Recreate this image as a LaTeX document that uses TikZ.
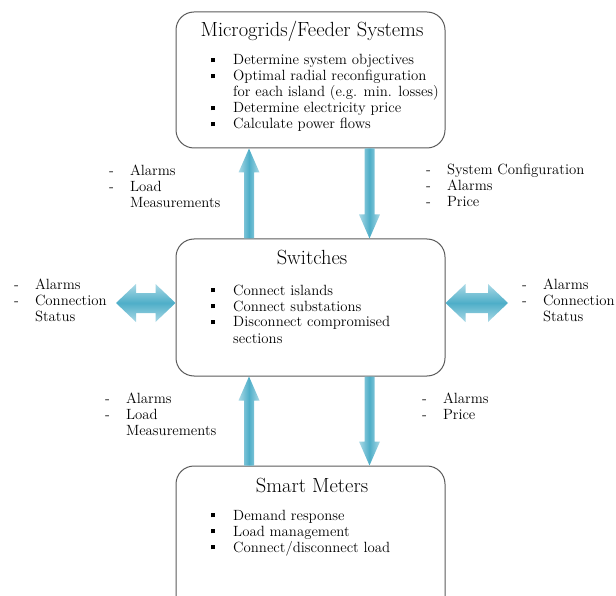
\documentclass[tikz,border=0pt]{standalone}
\usetikzlibrary{calc,positioning}
\definecolor{flowlight}{RGB}{170,217,230}
\definecolor{flowdark}{RGB}{78,174,200}
\definecolor{panelline}{RGB}{90,90,90}

\newcommand{\sq}{\rule[2.6pt]{4pt}{4pt}}
\newcommand{\tasks}[1]{\begin{tabular}[t]{@{}l@{\hspace{18pt}}l@{}}#1\end{tabular}}
\newcommand{\msgs}[1]{\begin{tabular}[t]{@{}l@{\hspace{16pt}}l@{}}#1\end{tabular}}
\newcommand{\vflow}[2]{%
    \shade[flowv] let \p1=(#1), \p2=(#2), \p3=($(#2)!24pt!(#1)$) in
        (\x1-5pt,\y1) -- (\x1-5pt,\y3) -- (\x1-10.5pt,\y3) -- (\p2)
        -- (\x1+10.5pt,\y3) -- (\x1+5pt,\y3) -- (\x1+5pt,\y1) -- cycle;}
\newcommand{\hflow}[2]{%
    \shade[flowh] let \p1=(#1), \p2=(#2), \p3=($(#1)!20pt!(#2)$), \p4=($(#2)!20pt!(#1)$) in
        (\p1) -- (\x3,\y1+19pt) -- (\x3,\y1+10pt) -- (\x4,\y1+10pt) -- (\x4,\y1+19pt) -- (\p2)
        -- (\x4,\y1-19pt) -- (\x4,\y1-10pt) -- (\x3,\y1-10pt) -- (\x3,\y1-19pt) -- cycle;}

\begin{document}
\begin{tikzpicture}[x=1pt,y=-1pt,
    panel/.style={draw=panelline, line width=1pt, rounded corners=18pt, minimum width=269pt},
    title/.style={font=\fontsize{20.5}{24}\selectfont, anchor=base, inner sep=0pt},
    body/.style={font=\fontsize{14.8}{16}\selectfont, anchor=base west, inner sep=0pt},
    flowv/.style={left color=flowlight, right color=flowlight, middle color=flowdark},
    flowh/.style={top color=flowlight, bottom color=flowlight, middle color=flowdark}]
            \useasboundingbox (0,0) rectangle (616,596);
            \node[panel, minimum height=136pt] (micro) at (310.5,80) {};
            \node[panel, minimum height=137pt] (switch) at (310.5,307.5) {};
            \node[panel, minimum height=180pt] (meters) at (310.5,556) {};
            \coordinate (upx) at (249,0);
            \coordinate (downx) at (369.5,0);
            \coordinate (lend) at (116,303);
            \coordinate (rend) at (508,303);
            \vflow{upx |- switch.north}{upx |- micro.south}
            \vflow{downx |- micro.south}{downx |- switch.north}
            \vflow{upx |- meters.north}{upx |- switch.south}
            \vflow{downx |- switch.south}{downx |- meters.north}
            \hflow{lend}{lend -| switch.west}
            \hflow{rend -| switch.east}{rend}
            \node[title] (microhead) at (312,37) {Microgrids/Feeder Systems};
            \node[title] (switchhead) at (312,265) {Switches};
            \node[title] (metershead) at (312,492) {Smart Meters};
            \node[body] (microtasks) at (211,65) {\tasks{\sq & Determine system objectives\\ \sq & Optimal radial reconfiguration\\ & for each island (e.g. min. losses)\\ \sq & Determine electricity price\\ \sq & Calculate power flows}};
            \node[body] (switchtasks) at (211,295) {\tasks{\sq & Connect islands\\ \sq & Connect substations\\ \sq & Disconnect compromised\\ & sections}};
            \node[body] (meterstasks) at (211,520) {\tasks{\sq & Demand response\\ \sq & Load management\\ \sq & Connect/disconnect load}};
            \node[body] (upmsgA) at (109,176) {\msgs{- & Alarms\\ - & Load\\ & Measurements}};
            \node[body] (downmsgA) at (426,175) {\msgs{- & System Configuration\\ - & Alarms\\ - & Price}};
            \node[body] (leftmsg) at (14,290) {\msgs{- & Alarms\\ - & Connection\\ & Status}};
            \node[body] (rightmsg) at (522,290) {\msgs{- & Alarms\\ - & Connection\\ & Status}};
            \node[body] (upmsgB) at (105,403) {\msgs{- & Alarms\\ - & Load\\ & Measurements}};
            \node[body] (downmsgB) at (422,403) {\msgs{- & Alarms\\ - & Price}};
        \end{tikzpicture}
\end{document}
